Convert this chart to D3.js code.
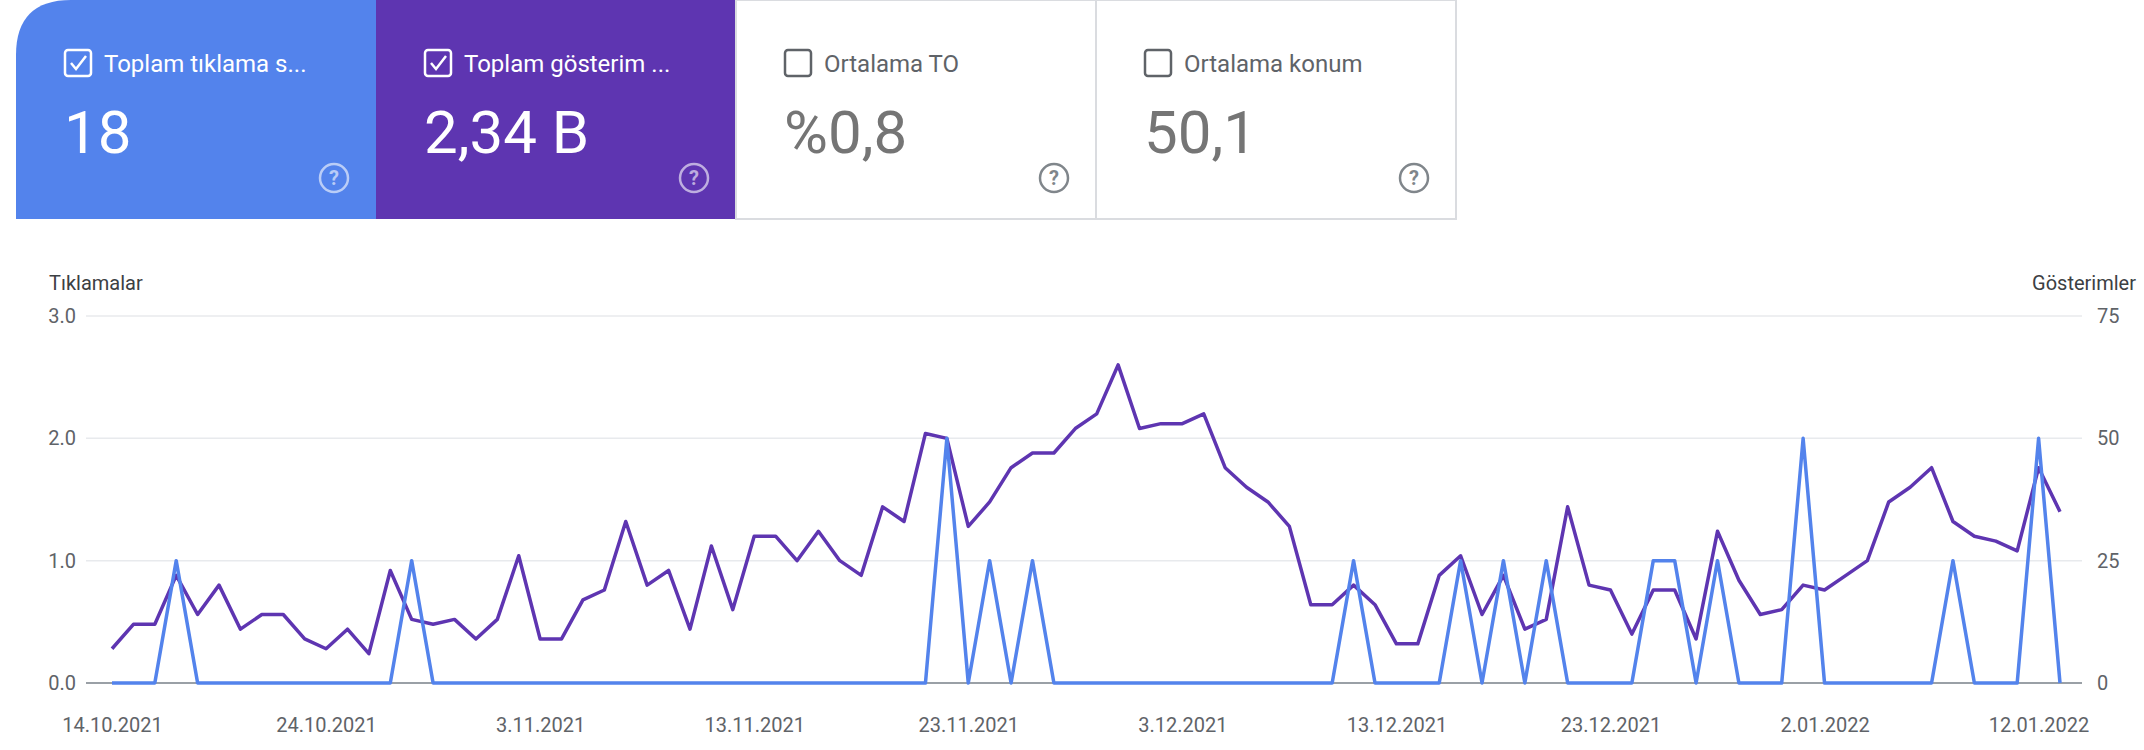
<!DOCTYPE html>
<html><head><meta charset="utf-8">
<script src="https://cdn.jsdelivr.net/npm/d3@7"></script>
<style>
body{margin:0;background:#fff;font-family:Roboto,"Noto Sans",sans-serif;}
</style></head>
<body><svg id="chart" width="2144" height="750"></svg>
<script>
// Data
const clicks = [0,0,0,1,0,0,0,0,0,0,0,0,0,0,1,0,0,0,0,0,0,0,0,0,0,0,0,0,0,0,
  0,0,0,0,0,0,0,0,0,2,0,1,0,1,0,0,0,0,0,0,0,0,0,0,0,0,0,0,1,0,
  0,0,0,1,0,1,0,1,0,0,0,0,1,1,0,1,0,0,0,2,0,0,0,0,0,0,1,0,0,0,2,0];
const impressions = [7,12,12,22,14,20,11,14,14,9,7,11,6,23,13,12,13,9,13,26,9,9,17,19,33,20,23,11,28,15,
  30,30,25,31,25,22,36,33,51,50,32,37,44,47,47,52,55,65,52,53,53,55,44,40,37,32,16,16,20,16,
  8,8,22,26,14,22,11,13,36,20,19,10,19,19,9,31,21,14,15,20,19,22,25,37,40,44,33,30,29,27,44,35];
const tickDates = ["14.10.2021","24.10.2021","3.11.2021","13.11.2021","23.11.2021","3.12.2021","13.12.2021","23.12.2021","2.01.2022","12.01.2022"];
const leftTicks = [0,1,2,3];
const rightTicks = [0,25,50,75];
const cards = [
  {title:"Toplam tıklama s...", value:"18", checked:true, bg:"#5383ec"},
  {title:"Toplam gösterim ...", value:"2,34 B", checked:true, bg:"#5e35b1"},
  {title:"Ortalama TO", value:"%0,8", checked:false, bg:"#fff"},
  {title:"Ortalama konum", value:"50,1", checked:false, bg:"#fff"}
];

const svg = d3.select("#chart");

// Metric cards
const cw = 360, cx0 = 16, ch = 219;
cards.forEach((c, i) => {
  const x = cx0 + i * cw;
  const g = svg.append("g").attr("transform", `translate(${x},0)`);
  if (i === 0) {
    g.append("path").attr("d", `M0,${ch} V55 Q0,0 55,0 H${cw} V${ch} Z`).attr("fill", c.bg);
  } else {
    g.append("rect").attr("width", cw).attr("height", ch).attr("fill", c.bg)
      .attr("stroke", c.checked ? "none" : "#dadce0").attr("stroke-width", 2);
  }
  const fg = c.checked ? "#fff" : "#5f6368";
  g.append("rect").attr("x", 49).attr("y", 50).attr("width", 26).attr("height", 26).attr("rx", 3)
    .attr("fill", "none").attr("stroke", fg).attr("stroke-width", 2.5);
  if (c.checked) {
    g.append("path").attr("d", "M55,63 L60,69 L70,56").attr("fill", "none").attr("stroke", fg).attr("stroke-width", 2.5);
  }
  g.append("text").attr("x", 88).attr("y", 72).attr("font-size", 24).attr("fill", fg).text(c.title);
  g.append("text").attr("x", 48).attr("y", 153).attr("font-size", 60).attr("fill", c.checked ? "#fff" : "#757575").text(c.value);
  const hx = 318, hy = 178;
  g.append("circle").attr("cx", hx).attr("cy", hy).attr("r", 14).attr("fill", "none")
    .attr("stroke", c.checked ? "rgba(255,255,255,0.6)" : "#80868b").attr("stroke-width", 2.5);
  g.append("text").attr("x", hx).attr("y", hy + 7).attr("text-anchor", "middle").attr("font-size", 20)
    .attr("font-weight", 700).attr("fill", c.checked ? "rgba(255,255,255,0.6)" : "#80868b").text("?");
});

// Chart scales
const x = d3.scaleLinear().domain([0, clicks.length - 1]).range([112, 2060]);
const yL = d3.scaleLinear().domain([0, 3]).range([683, 316]);
const yR = d3.scaleLinear().domain([0, 75]).range([683, 316]);

const grid = svg.append("g");
leftTicks.forEach(t => {
  grid.append("line").attr("x1", 86).attr("x2", 2082).attr("y1", yL(t)).attr("y2", yL(t))
    .attr("stroke", t === 0 ? "#9aa0a6" : "#e8eaed").attr("stroke-width", t === 0 ? 2 : 1.5);
});

const yAxisL = d3.axisLeft(yL).tickValues(leftTicks).tickSize(0).tickPadding(0);
svg.append("g").attr("transform", "translate(76,0)").call(yAxisL)
  .call(g => g.select(".domain").remove())
  .selectAll("text").attr("font-size", 20).attr("fill", "#5f6368").attr("font-family", "Roboto");
const yAxisR = d3.axisRight(yR).tickValues(rightTicks).tickSize(0).tickPadding(0);
svg.append("g").attr("transform", "translate(2097,0)").call(yAxisR)
  .call(g => g.select(".domain").remove())
  .selectAll("text").attr("font-size", 20).attr("fill", "#5f6368").attr("font-family", "Roboto");

svg.append("text").attr("x", 49).attr("y", 290).attr("font-size", 20).attr("fill", "#3c4043").text("Tıklamalar");
svg.append("text").attr("x", 2136).attr("y", 290).attr("text-anchor", "end").attr("font-size", 20).attr("fill", "#3c4043").text("Gösterimler");

const xAxis = d3.axisBottom(x).tickValues(tickDates.map((d, i) => i * 10))
  .tickFormat((d, i) => tickDates[i]).tickSize(0).tickPadding(0);
svg.append("g").attr("transform", "translate(0,718)").call(xAxis)
  .call(g => g.select(".domain").remove())
  .selectAll("text").attr("font-size", 20).attr("fill", "#5f6368").attr("font-family", "Roboto");

const lineImp = d3.line().x((d, i) => x(i)).y(d => yR(d));
const lineClk = d3.line().x((d, i) => x(i)).y(d => yL(d));
svg.append("path").datum(impressions).attr("d", lineImp).attr("fill", "none")
  .attr("stroke", "#5e35b1").attr("stroke-width", 3.5).attr("stroke-linejoin", "round");
svg.append("path").datum(clicks).attr("d", lineClk).attr("fill", "none")
  .attr("stroke", "#5383ec").attr("stroke-width", 3.5).attr("stroke-linejoin", "round");
</script>
</body></html>
